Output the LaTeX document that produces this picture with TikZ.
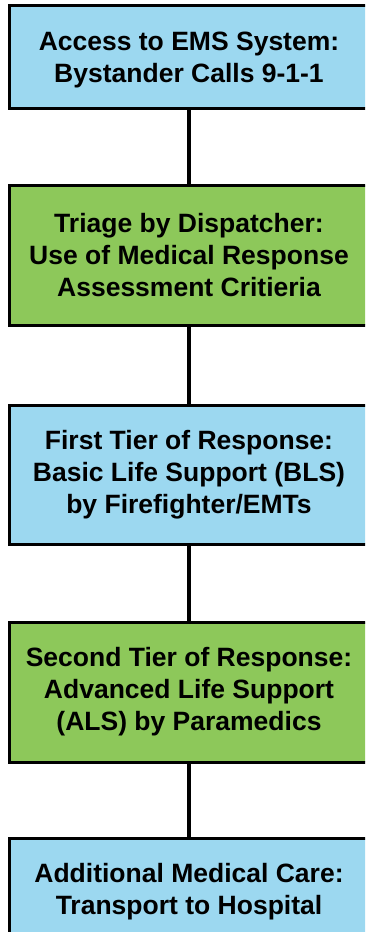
\documentclass[tikz,border=0pt]{standalone}
\usepackage{fontspec}
\setmainfont{Liberation Sans}
\begin{document}
\definecolor{tierblue}{RGB}{156,216,240}
\definecolor{tiergreen}{RGB}{141,200,90}
\begin{tikzpicture}[x=1pt,y=-1pt,
  stage/.style={draw=black, line width=3pt, minimum width=360pt, inner sep=0pt,
    align=center, font=\fontsize{26.5}{32}\selectfont\bfseries, text=black},
  bluestage/.style={stage, fill=tierblue},
  greenstage/.style={stage, fill=tiergreen},
  link/.style={draw=black, line width=4pt}]
\useasboundingbox (0,0) rectangle (365,932);
\clip (0,0) rectangle (365,932);
\fill[white] (0,0) rectangle (365,932);
% flow of stages, top to bottom
\node[bluestage, minimum height=103pt] (access) at (189,56.5)
  {\rule{0pt}{26pt}Access to EMS System:\\Bystander Calls 9-1-1};
\node[greenstage, minimum height=140pt] (triage) at (189,255)
  {Triage by Dispatcher:\\Use of Medical Response\\Assessment Critieria};
\node[bluestage, minimum height=139pt] (bls) at (189,474.5)
  {First Tier of Response:\\Basic Life Support (BLS)\\by Firefighter/EMTs};
\node[greenstage, minimum height=140pt] (als) at (189,692)
  {Second Tier of Response:\\Advanced Life Support\\(ALS) by Paramedics};
\node[bluestage, minimum height=108pt] (care) at (189,892)
  {Additional Medical Care:\\Transport to Hospital};
% connectors between stages
\draw[link] (access.south) -- (triage.north);
\draw[link] (triage.south) -- (bls.north);
\draw[link] (bls.south) -- (als.north);
\draw[link] (als.south) -- (care.north);
\end{tikzpicture}
\end{document}
